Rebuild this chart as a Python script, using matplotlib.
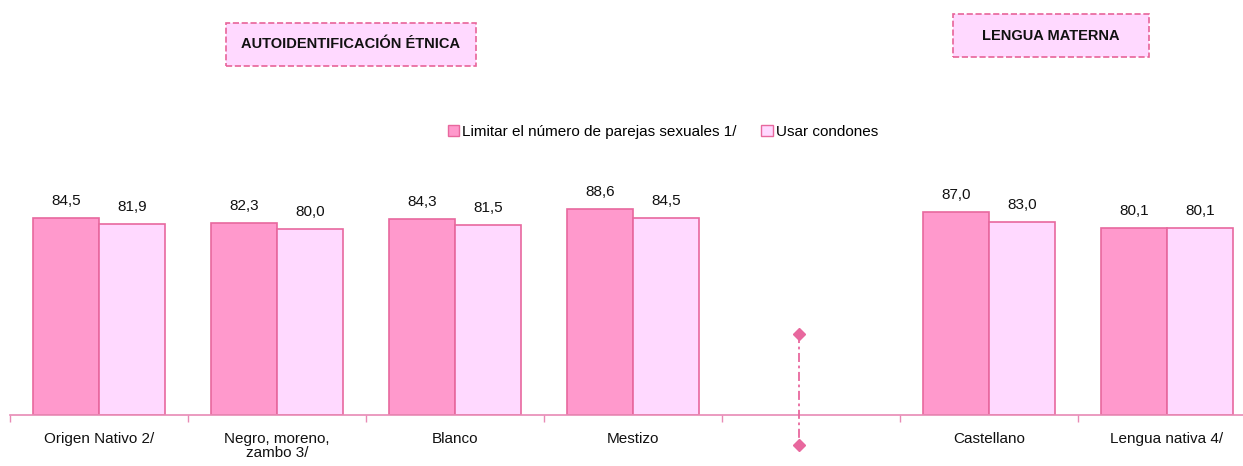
import numpy as np
import matplotlib.pyplot as plt
from matplotlib.patches import Patch, Rectangle

plt.rcParams['font.family'] = ['Liberation Sans', 'DejaVu Sans']

# datos
categorias = ['Origen Nativo 2/', 'Negro, moreno,\nzambo 3/', 'Blanco', 'Mestizo', '',
              'Castellano', 'Lengua nativa 4/']
limitar = [84.5, 82.3, 84.3, 88.6, None, 87.0, 80.1]
condones = [81.9, 80.0, 81.5, 84.5, None, 83.0, 80.1]
serie_nombres = ['Limitar el número de parejas sexuales 1/', 'Usar condones']
titulo_izq = 'AUTOIDENTIFICACIÓN ÉTNICA'
titulo_der = 'LENGUA MATERNA'

c_oscuro = '#FF99CC'
c_claro = '#FFD9FF'
c_borde = '#E8689E'

W, H = 1243, 466
fig = plt.figure(figsize=(W / 100, H / 100), dpi=100)
# eje: x de 10 a 1256 px, y de 415 (base) a 182 (100)
ax = fig.add_axes([10 / W, (H - 415) / H, 1246 / W, 233 / H])

x = np.arange(len(categorias))
bw = 0.37
for i in range(len(categorias)):
    if limitar[i] is None:
        continue
    for j, (vals, col) in enumerate([(limitar, c_oscuro), (condones, c_claro)]):
        xc = x[i] + (j - 0.5) * bw
        ax.bar(xc, vals[i], width=bw, color=col, edgecolor=c_borde, linewidth=1.2, zorder=2)
        ax.text(xc, vals[i] + 4.3, f'{vals[i]:.1f}'.replace('.', ','),
                ha='center', va='bottom', fontsize=11, color='#111111')

ax.set_xlim(-0.5, len(categorias) - 0.5)
ax.set_ylim(0, 100)
for s in ['top', 'right', 'left']:
    ax.spines[s].set_visible(False)
ax.spines['bottom'].set_color('#E88AB5')
ax.spines['bottom'].set_linewidth(1.2)
ax.set_yticks([])
ax.set_xticks(np.arange(len(categorias) + 1) - 0.5)
ax.set_xticklabels([])
ax.tick_params(axis='x', direction='out', length=5, color='#E88AB5', width=1)
for i, lab in enumerate(categorias):
    ax.text(x[i], -7.5, lab, ha='center', va='top', fontsize=11, color='#111111',
            linespacing=1.0)

# separador
xs = 4 - 12 / 178
ax.plot([xs, xs], [34.8, -12.9], color=c_borde, linestyle=(0, (5, 2, 1.5, 2)),
        linewidth=1.3, clip_on=False, zorder=3)
ax.plot([xs, xs], [34.8, -12.9], linestyle='none', marker='D', markersize=6,
        color=c_borde, clip_on=False, zorder=4)

# leyenda
handles = [Patch(facecolor=c_oscuro, edgecolor=c_borde), Patch(facecolor=c_claro, edgecolor=c_borde)]
fig.legend(handles, serie_nombres, loc='center', bbox_to_anchor=(663 / W, 1 - 132 / H),
           ncol=2, frameon=False, fontsize=11, handlelength=0.75, handleheight=0.75,
           handletextpad=0.2, columnspacing=1.6)

# titulos en cajas punteadas
for (x0, y0, x1, y1), txt in [((226, 23, 476, 66), titulo_izq),
                              ((953, 14, 1149, 57), titulo_der)]:
    fig.patches.append(Rectangle((x0 / W, 1 - y1 / H), (x1 - x0) / W, (y1 - y0) / H,
                                 transform=fig.transFigure, facecolor=c_claro,
                                 edgecolor='#E8649A', linestyle='--', linewidth=1.2))
    fig.text((x0 + x1) / 2 / W, 1 - (y0 + y1) / 2 / H, txt, ha='center', va='center',
             fontsize=10.5, fontweight='bold', color='#111111')

fig.savefig('out.png', dpi=100)
